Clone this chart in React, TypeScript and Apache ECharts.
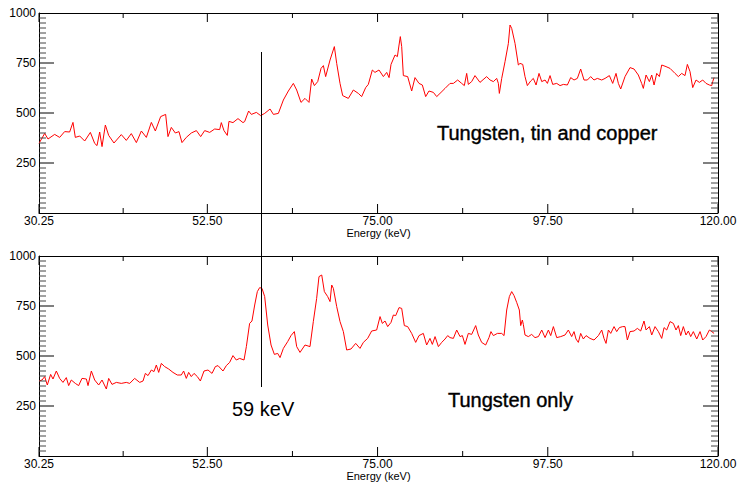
import React, { useEffect, useRef } from "react";
import * as echarts from "echarts";

// ---- axis definitions ----
const X_MIN = 30.25;
const X_MAX = 120;
const X_LABELED_TICKS = [30.25, 52.5, 75, 97.5, 120];
const X_MINOR_TICKS = [41.375, 63.75, 86.25, 108.75];
const Y_MIN = 0;
const Y_MAX = 1000;
const Y_LABELS = [250, 500, 750, 1000];
const Y_MAJOR_TICKS = [250, 500, 750];
const Y_MINOR_STEP = 25;
const X_NAME = "Energy (keV)";

// ---- top panel: Tungsten, tin and copper ----
const topEnergy = [
  30.25, 31.0, 31.44, 32.32, 32.98, 33.64, 34.3, 34.74, 35.05, 35.63, 36.29, 37.04, 37.61, 37.92, 38.27, 38.58,
  39.02, 39.46, 40.16, 41.13, 41.79, 42.45, 43.12, 43.78, 44.44, 45.1, 45.63, 46.33, 46.99, 47.3, 47.74, 48.27,
  48.75, 49.15, 49.72, 50.38, 51.05, 51.62, 52.15, 52.81, 53.47, 54.13, 54.35, 54.7, 55.14, 55.36, 55.89, 56.55,
  57.21, 57.43, 57.96, 58.32, 58.98, 59.55, 60.08, 60.79, 61.23, 61.89, 62.55, 63.21, 63.87, 64.31, 64.88, 65.41,
  65.94, 66.29, 66.65, 67.09, 67.53, 67.84, 68.14, 68.72, 69.29, 69.6, 70.04, 70.39, 71.14, 71.8, 72.46, 72.9,
  73.43, 73.78, 74.31, 74.66, 75.19, 75.77, 76.21, 76.52, 76.78, 77.31, 77.62, 77.84, 78.01, 78.19, 78.41, 78.98,
  79.51, 79.95, 80.48, 80.92, 81.36, 81.8, 82.38, 82.82, 83.39, 83.92, 84.58, 85.02, 85.59, 86.12, 86.47, 86.78,
  87.0, 87.44, 87.88, 88.54, 89.42, 89.87, 90.31, 90.75, 90.97, 91.1, 91.41, 91.85, 92.29, 92.51, 92.73, 93.17,
  93.61, 93.83, 94.19, 94.49, 94.8, 95.24, 95.59, 95.95, 96.34, 96.7, 97.14, 97.45, 97.8, 98.15, 98.68, 99.12,
  99.56, 100.09, 100.53, 100.97, 101.41, 101.85, 102.29, 102.73, 103.17, 103.61, 104.05, 104.63, 105.07, 105.64, 106.08, 106.52,
  106.83, 107.14, 107.71, 108.37, 108.9, 109.47, 109.91, 110.13, 110.49, 110.93, 111.24, 111.55, 111.9, 112.25, 112.56, 113.13,
  113.66, 114.32, 114.76, 115.2, 115.64, 115.95, 116.3, 116.66, 117.1, 117.54, 117.98, 118.42, 118.86, 119.17, 119.3, 119.48,
];
const topCounts = [
  348, 398, 370, 393, 378, 407, 405, 453, 378, 385, 360, 403, 348, 337, 405, 332,
  440, 388, 350, 392, 363, 397, 352, 410, 378, 453, 410, 482, 493, 382, 428, 400,
  407, 352, 378, 400, 412, 382, 412, 403, 420, 417, 452, 412, 388, 458, 452, 472,
  452, 457, 510, 493, 503, 487, 498, 520, 493, 498, 565, 610, 648, 615, 553, 573,
  553, 670, 637, 657, 723, 737, 682, 765, 832, 748, 648, 587, 573, 615, 598, 582,
  627, 643, 715, 703, 715, 682, 703, 677, 743, 790, 782, 840, 882, 832, 687, 682,
  610, 677, 648, 640, 582, 610, 603, 582, 603, 623, 648, 648, 665, 648, 637, 698,
  643, 657, 687, 653, 682, 665, 657, 673, 648, 598, 673, 757, 848, 940, 923, 848,
  740, 748, 743, 682, 637, 660, 673, 640, 698, 657, 665, 648, 687, 643, 648, 637,
  643, 640, 677, 665, 673, 720, 665, 665, 682, 665, 673, 665, 673, 687, 648, 698,
  648, 620, 682, 727, 720, 690, 648, 623, 690, 657, 690, 640, 698, 682, 740, 732,
  723, 698, 682, 698, 687, 743, 707, 627, 665, 653, 665, 648, 640, 637, 657, 677,
];

// ---- bottom panel: Tungsten only ----
const bottomEnergy = [
  30.25, 30.65, 31.0, 31.35, 31.79, 32.1, 32.54, 32.98, 33.42, 33.86, 34.17, 34.52, 35.05, 35.49, 35.93, 36.51,
  36.73, 37.17, 37.61, 38.14, 38.58, 39.15, 39.46, 39.9, 40.47, 41.13, 41.79, 42.24, 42.89, 43.56, 44.0, 44.31,
  44.66, 45.1, 45.45, 45.76, 46.07, 46.42, 46.86, 47.39, 47.96, 48.53, 49.06, 49.37, 49.72, 50.03, 50.38, 50.74,
  51.18, 51.58, 52.06, 52.59, 53.12, 53.56, 53.91, 54.57, 55.01, 55.45, 55.89, 56.33, 56.77, 57.35, 57.66, 58.09,
  58.4, 58.76, 59.11, 59.42, 59.73, 60.08, 60.48, 60.92, 61.36, 61.8, 62.11, 62.55, 63.12, 63.56, 64.0, 64.31,
  64.75, 65.41, 66.07, 66.51, 66.95, 67.26, 67.62, 67.97, 68.41, 68.72, 68.94, 69.16, 69.6, 70.04, 70.48, 70.92,
  71.49, 72.11, 72.68, 73.12, 73.69, 74.22, 74.88, 75.33, 75.63, 75.99, 76.34, 76.78, 77.09, 77.4, 77.84, 78.19,
  78.54, 78.98, 79.51, 80.04, 80.48, 81.05, 81.49, 81.93, 82.24, 82.6, 83.04, 83.48, 83.92, 84.27, 84.58, 85.02,
  85.46, 85.9, 86.21, 86.56, 87.0, 87.44, 87.97, 88.32, 88.76, 89.29, 89.73, 89.99, 90.31, 90.84, 91.41, 91.72,
  92.07, 92.42, 92.73, 93.04, 93.39, 93.74, 93.92, 94.14, 94.27, 94.49, 94.93, 95.37, 95.81, 96.26, 96.7, 97.14,
  97.58, 97.89, 98.24, 98.68, 99.21, 99.78, 100.22, 100.66, 100.97, 101.23, 101.54, 101.85, 102.2, 102.56, 103.08, 103.61,
  104.19, 104.63, 104.93, 105.2, 105.51, 105.82, 106.26, 106.61, 106.96, 107.4, 107.71, 108.02, 108.37, 108.9, 109.34, 109.78,
  110.22, 110.49, 110.93, 111.24, 111.68, 112.12, 112.56, 112.87, 113.22, 113.66, 114.1, 114.45, 114.76, 115.07, 115.42, 115.77,
  116.08, 116.39, 116.74, 117.19, 117.63, 117.98, 118.42, 118.86, 119.17, 119.48,
];
const bottomCounts = [
  375, 380, 397, 355, 408, 385, 425, 388, 368, 392, 352, 380, 363, 352, 388, 385,
  352, 425, 380, 355, 380, 335, 388, 358, 368, 363, 368, 363, 388, 368, 375, 413,
  402, 430, 422, 455, 418, 463, 447, 435, 418, 405, 405, 425, 388, 418, 397, 413,
  397, 375, 425, 430, 413, 447, 452, 425, 452, 468, 502, 480, 488, 480, 547, 663,
  675, 755, 822, 842, 838, 797, 655, 555, 508, 513, 492, 538, 572, 602, 622, 547,
  518, 555, 547, 672, 788, 897, 905, 822, 797, 772, 855, 838, 747, 672, 622, 530,
  535, 563, 538, 568, 588, 625, 630, 697, 663, 675, 647, 668, 705, 702, 742, 738,
  652, 647, 613, 568, 602, 613, 555, 588, 558, 597, 547, 568, 585, 602, 592, 588,
  630, 597, 602, 558, 613, 608, 652, 605, 568, 555, 592, 622, 602, 613, 613, 602,
  730, 797, 822, 802, 768, 730, 652, 680, 658, 605, 597, 608, 592, 597, 630, 592,
  630, 602, 647, 592, 597, 605, 630, 597, 622, 585, 568, 613, 585, 602, 588, 580,
  602, 630, 588, 563, 630, 613, 647, 622, 642, 647, 647, 580, 622, 625, 638, 625,
  675, 630, 647, 605, 647, 622, 588, 642, 630, 672, 663, 630, 652, 602, 647, 605,
  625, 597, 622, 585, 622, 580, 597, 630, 622, 613,
];

// ---- annotations ----
const MARKER_KEV = 59.55;
const MARKER_TOP_COUNT = 805;
const MARKER_BOTTOM_COUNT = 345;
const LABEL_TOP = "Tungsten, tin and copper";
const LABEL_BOTTOM = "Tungsten only";
const LABEL_MARKER = "59 keV";

const FONT = 'Arial, "Liberation Sans", sans-serif';
const AXIS_COLOR = "#000";
const MINOR_COLOR = "#444";

// layout
const GRID_LEFT = 39;
const GRID_W = 679;
const GRID_H = 200;
const GRID_TOPS = [13, 256];

const Y_MINOR_TICKS: number[] = [];
for (let v = Y_MIN + Y_MINOR_STEP; v < Y_MAX; v += Y_MINOR_STEP) {
  if (v % 250 !== 0) Y_MINOR_TICKS.push(v);
}

// tick lengths in px turned into data units via the axes' linear scale
const KEV_PER_PX = (X_MAX - X_MIN) / GRID_W;
const COUNT_PER_PX = (Y_MAX - Y_MIN) / GRID_H;

type Seg = [number[], number[]];

function tickSegments(xVals: number[], xLen: number, yVals: number[], yLen: number): Seg[] {
  const out: Seg[] = [];
  xVals.forEach((v) => {
    out.push([[v, Y_MIN], [v, Y_MIN + xLen * COUNT_PER_PX]]);
    out.push([[v, Y_MAX], [v, Y_MAX - xLen * COUNT_PER_PX]]);
  });
  yVals.forEach((v) => {
    out.push([[X_MIN, v], [X_MIN + yLen * KEV_PER_PX, v]]);
    out.push([[X_MAX, v], [X_MAX - yLen * KEV_PER_PX, v]]);
  });
  return out;
}

const MAJOR_SEGS = tickSegments(X_LABELED_TICKS, 9, Y_MAJOR_TICKS, 15);
const MINOR_SEGS_X = tickSegments(X_MINOR_TICKS, 5, [], 0);
const MINOR_SEGS_Y = tickSegments([], 0, Y_MINOR_TICKS, 7);

// one polyline with breaks (null points) per tick group
function segsToLineData(segs: Seg[]) {
  const data: any[] = [];
  segs.forEach(([a, b]) => {
    data.push(a, b, [NaN, NaN]);
  });
  return data;
}

function tickSeries(axisIndex: number, segs: Seg[], color: string, width: number) {
  return {
    type: "line",
    xAxisIndex: axisIndex,
    yAxisIndex: axisIndex,
    data: segsToLineData(segs),
    showSymbol: false,
    symbol: "none",
    connectNulls: false,
    silent: true,
    clip: false,
    z: 4,
    lineStyle: { color, width },
    emphasis: { disabled: true },
    tooltip: { show: false },
  };
}

function xAxisFor(gridIndex: number) {
  return {
    type: "value",
    gridIndex,
    min: X_MIN,
    max: X_MAX,
    position: "bottom",
    splitLine: { show: false },
    minorTick: { show: false },
    axisTick: { show: false },
    axisLine: { show: true, onZero: false, lineStyle: { color: AXIS_COLOR, width: 1 } },
    axisLabel: {
      show: true,
      customValues: X_LABELED_TICKS,
      formatter: (v: number) => v.toFixed(2),
      color: "#000",
      fontSize: 12,
      fontFamily: FONT,
      margin: 2,
    },
    name: X_NAME,
    nameLocation: "middle",
    nameGap: 14,
    nameTextStyle: { color: "#000", fontSize: 11, fontFamily: FONT, verticalAlign: "top" },
  };
}

function yAxisFor(gridIndex: number) {
  return {
    type: "value",
    gridIndex,
    min: Y_MIN,
    max: Y_MAX,
    position: "left",
    splitLine: { show: false },
    minorTick: { show: false },
    axisTick: { show: false },
    axisLine: { show: true, onZero: false, lineStyle: { color: AXIS_COLOR, width: 1 } },
    axisLabel: {
      show: true,
      customValues: Y_LABELS,
      formatter: (v: number) => String(v),
      color: "#000",
      fontSize: 12,
      fontFamily: FONT,
      margin: 3,
    },
  };
}

function spectrumSeries(name: string, axisIndex: number, data: number[][]) {
  return {
    type: "line",
    name,
    xAxisIndex: axisIndex,
    yAxisIndex: axisIndex,
    data,
    showSymbol: false,
    symbol: "none",
    z: 3,
    lineStyle: { color: "#ff0000", width: 1 },
  };
}

export default function App() {
  const ref = useRef<HTMLDivElement>(null);

  useEffect(() => {
    if (!ref.current) return;
    const chart = echarts.init(ref.current, null, { renderer: "svg" });
    const topData = topEnergy.map((e, i) => [e, topCounts[i]]);
    const bottomData = bottomEnergy.map((e, i) => [e, bottomCounts[i]]);

    const gridBase = {
      left: GRID_LEFT,
      width: GRID_W,
      height: GRID_H,
      show: false,
      outerBoundsMode: "none",
      containLabel: false,
    };

    const series: any[] = [spectrumSeries(LABEL_TOP, 0, topData), spectrumSeries(LABEL_BOTTOM, 1, bottomData)];
    [0, 1].forEach((g) => {
      series.push(tickSeries(g, MAJOR_SEGS, AXIS_COLOR, 1));
      series.push(tickSeries(g, MINOR_SEGS_X, AXIS_COLOR, 1));
      series.push(tickSeries(g, MINOR_SEGS_Y, MINOR_COLOR, 1));
    });

    chart.setOption({
      animation: false,
      backgroundColor: "#ffffff",
      grid: GRID_TOPS.map((top) => ({ ...gridBase, top })),
      xAxis: [xAxisFor(0), xAxisFor(1)],
      yAxis: [yAxisFor(0), yAxisFor(1)],
      series,
    });

    const elements: any[] = [];
    // plot frames (top and right edges) placed from the axes' extents
    [0, 1].forEach((g) => {
      const c0 = chart.convertToPixel({ xAxisIndex: g, yAxisIndex: g }, [X_MIN, Y_MIN]) as number[];
      const c1 = chart.convertToPixel({ xAxisIndex: g, yAxisIndex: g }, [X_MAX, Y_MAX]) as number[];
      const top = Math.round(c1[1]) + 0.5;
      const right = Math.round(c1[0]) + 0.5;
      elements.push({
        type: "polyline",
        shape: { points: [[c0[0], top], [right, top], [right, c0[1]]] },
        style: { stroke: AXIS_COLOR, lineWidth: 1, fill: null },
        z: 60,
      });
    });

    const p1 = chart.convertToPixel({ xAxisIndex: 0, yAxisIndex: 0 }, [MARKER_KEV, MARKER_TOP_COUNT]) as number[];
    const p2 = chart.convertToPixel({ xAxisIndex: 1, yAxisIndex: 1 }, [MARKER_KEV, MARKER_BOTTOM_COUNT]) as number[];
    const mx = Math.round(p1[0]) + 0.5;

    elements.push(
      {
        type: "line",
        shape: { x1: mx, y1: p1[1], x2: mx, y2: p2[1] },
        style: { stroke: "#000", lineWidth: 1 },
        z: 60,
      },
      {
        type: "text",
        x: 437,
        y: 133,
        style: {
          text: LABEL_TOP,
          fill: "#000",
          stroke: "#000",
          lineWidth: 0.4,
          fontSize: 20,
          fontFamily: FONT,
          verticalAlign: "middle",
        },
        z: 60,
      },
      {
        type: "text",
        x: 448,
        y: 400,
        style: {
          text: LABEL_BOTTOM,
          fill: "#000",
          stroke: "#000",
          lineWidth: 0.4,
          fontSize: 20,
          fontFamily: FONT,
          verticalAlign: "middle",
        },
        z: 60,
      },
      {
        type: "text",
        x: 232,
        y: 409,
        style: {
          text: LABEL_MARKER,
          fill: "#000",
          fontSize: 20,
          fontFamily: FONT,
          verticalAlign: "middle",
        },
        z: 60,
      }
    );

    chart.setOption({ graphic: { elements } });

    return () => {
      chart.dispose();
    };
  }, []);

  return (
    <div
      ref={ref}
      style={{ position: "absolute", left: 0, top: 0, width: 738, height: 485, background: "#fff" }}
    />
  );
}
